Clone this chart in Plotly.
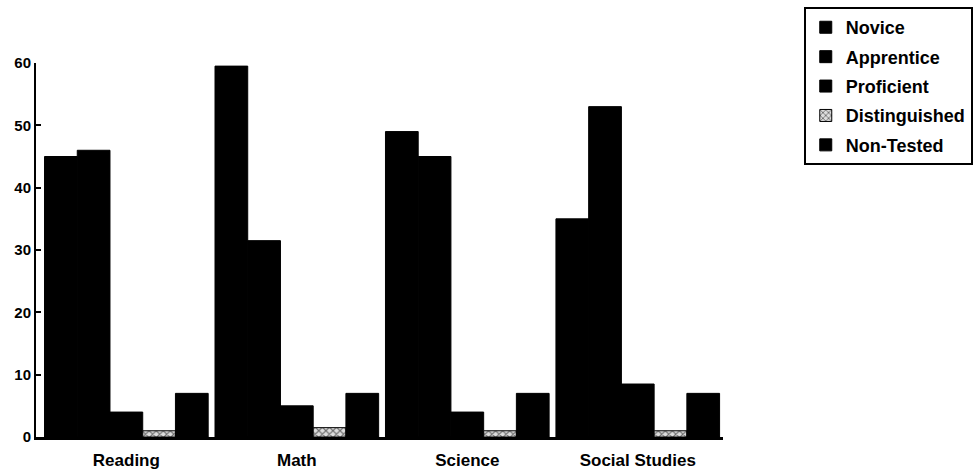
import plotly.graph_objects as go

subjects = ["Reading", "Math", "Science", "Social Studies"]
novice = [45, 59.5, 49, 35]
apprentice = [46, 31.5, 45, 53]
proficient = [4, 5, 4, 8.5]
distinguished = [1, 1.5, 1, 1]
non_tested = [7, 7, 7, 7]

series = [
    ("Novice", novice),
    ("Apprentice", apprentice),
    ("Proficient", proficient),
    ("Distinguished", distinguished),
    ("Non-Tested", non_tested),
]

fig = go.Figure()
for name, vals in series:
    if name == "Distinguished":
        marker = dict(color="#bbbbbb", line=dict(color="black", width=1),
                      pattern=dict(shape="x", fgcolor="black", bgcolor="#dddddd", size=5, solidity=0.4))
    else:
        marker = dict(color="black", line=dict(color="black", width=1))
    fig.add_trace(go.Bar(name=name, x=subjects, y=vals, marker=marker, legendgroup=name))

fam = "Liberation Sans, Arial, sans-serif"

fig.update_layout(
    width=979, height=471,
    barmode="group", bargap=0.04, bargroupgap=0,
    plot_bgcolor="white", paper_bgcolor="white",
    margin=dict(l=36, r=256, t=63, b=34),
    font=dict(family=fam, size=14, color="black", weight="bold"),
    showlegend=True,
    legend=dict(
        xref="container", yref="container",
        x=0.821, y=0.985, xanchor="left", yanchor="top",
        bordercolor="black", borderwidth=2,
        font=dict(family=fam, size=18, color="black", weight="bold"),
        tracegroupgap=3, itemwidth=30,
    ),
    xaxis=dict(range=[-0.53, 3.5], showline=True, linecolor="black", linewidth=3, ticks="",
               showgrid=False, automargin=False, ticklabelstandoff=6,
               tickfont=dict(family=fam, size=17, color="black", weight="bold")),
    yaxis=dict(range=[0, 60], showline=True, linecolor="black", linewidth=2,
               ticks="inside", ticklen=5, tickwidth=2, tickcolor="black",
               dtick=10, showgrid=False, zeroline=False, automargin=False,
               tickfont=dict(family=fam, size=15, color="black", weight="bold")),
)

fig.write_html("out.html")
